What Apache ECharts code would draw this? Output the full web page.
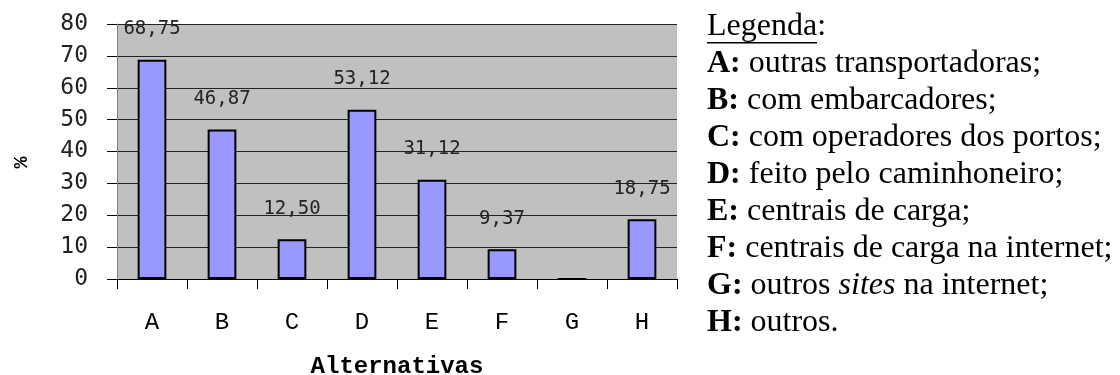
<!DOCTYPE html>
<html>
<head>
<meta charset="utf-8">
<style>
  html, body { margin: 0; padding: 0; background: #ffffff; }
  #chart { width: 1120px; height: 375px; }
</style>
<script src="https://cdn.jsdelivr.net/npm/echarts@6/dist/echarts.min.js"></script>
</head>
<body>
<div id="chart"></div>
<script>
// Alternatives on the x axis and the share (%) of answers for each one
const categories = ['A', 'B', 'C', 'D', 'E', 'F', 'G', 'H'];
const percentages = [68.75, 46.87, 12.50, 53.12, 31.12, 9.37, 0, 18.75];
const yTicks = [0, 10, 20, 30, 40, 50, 60, 70, 80];

// Legend lines: key letter and its description
const legendKeys = ['A:', 'B:', 'C:', 'D:', 'E:', 'F:', 'G:', 'H:'];
const legendTexts = [
  'outras transportadoras;',
  'com embarcadores;',
  'com operadores dos portos;',
  'feito pelo caminhoneiro;',
  'centrais de carga;',
  'centrais de carga na internet;',
  'outros {i|sites} na internet;',
  'outros.'
];

const monoSans = '"DejaVu Sans Mono", monospace';
const monoSerif = '"Liberation Mono", "Courier New", monospace';
const serif = '"Liberation Serif", "Times New Roman", serif';

const legendBody = ['{u|Legenda}:']
  .concat(legendKeys.map((k, i) => '{b|' + k + '} ' + legendTexts[i]))
  .join('\n');

const chart = echarts.init(document.getElementById('chart'), null, { renderer: 'canvas' });

chart.setOption({
  animation: false,
  backgroundColor: '#ffffff',
  grid: {
    left: 117, right: 443, top: 24, bottom: 96,
    outerBoundsMode: 'none',
    containLabel: false,
    show: true, backgroundColor: '#c0c0c0', borderWidth: 0
  },
  title: {
    text: legendBody,
    left: 702,
    top: 3,
    textStyle: {
      fontFamily: serif, fontSize: 32, fontWeight: 'normal',
      color: '#000000', lineHeight: 37,
      rich: {
        u: { fontFamily: serif, fontSize: 32, lineHeight: 37, color: '#000' },
        b: { fontFamily: serif, fontSize: 32, lineHeight: 37, fontWeight: 'bold', color: '#000' },
        i: { fontFamily: serif, fontSize: 32, lineHeight: 37, fontStyle: 'italic', color: '#000' }
      }
    }
  },
  graphic: [{
    // underline beneath "Legenda"
    type: 'rect',
    shape: { x: 707, y: 42, width: 110, height: 1.5 },
    style: { fill: '#000000' },
    silent: true
  }],
  xAxis: {
    type: 'category',
    data: categories,
    name: 'Alternativas',
    nameLocation: 'middle',
    nameGap: 76,
    nameTextStyle: { fontFamily: monoSerif, fontSize: 24, fontWeight: 'bold', color: '#000' },
    axisLine: { show: true, lineStyle: { color: '#000', width: 1 } },
    axisTick: { show: true, length: 10, lineStyle: { color: '#000' } },
    axisLabel: { margin: 32, fontFamily: monoSerif, fontSize: 24, color: '#000' },
    splitLine: { show: false }
  },
  yAxis: {
    type: 'value',
    min: yTicks[0],
    max: yTicks[yTicks.length - 1],
    interval: 10,
    name: '%',
    nameLocation: 'middle',
    nameRotate: 90,
    nameGap: 85,
    nameTextStyle: {
      fontFamily: monoSerif, fontSize: 20, fontWeight: 'bold', color: '#000',
      padding: [0, 22, 0, 0]
    },
    axisLine: { show: true, lineStyle: { color: '#808080', width: 1 } },
    axisTick: { show: true, length: 10, lineStyle: { color: '#000' } },
    axisLabel: { margin: 29, fontFamily: monoSans, fontSize: 23, color: '#222' },
    splitLine: { show: true, lineStyle: { color: '#222', width: 1 } }
  },
  series: [{
    type: 'bar',
    data: percentages,
    barWidth: '41%',
    itemStyle: { color: '#9999ff', borderColor: '#000000', borderWidth: 2 },
    label: {
      show: true,
      position: 'top',
      distance: 21,
      fontFamily: monoSans,
      fontSize: 19,
      color: '#222',
      formatter: p => p.value ? p.value.toFixed(2).replace('.', ',') : ''
    }
  }]
});
</script>
</body>
</html>
